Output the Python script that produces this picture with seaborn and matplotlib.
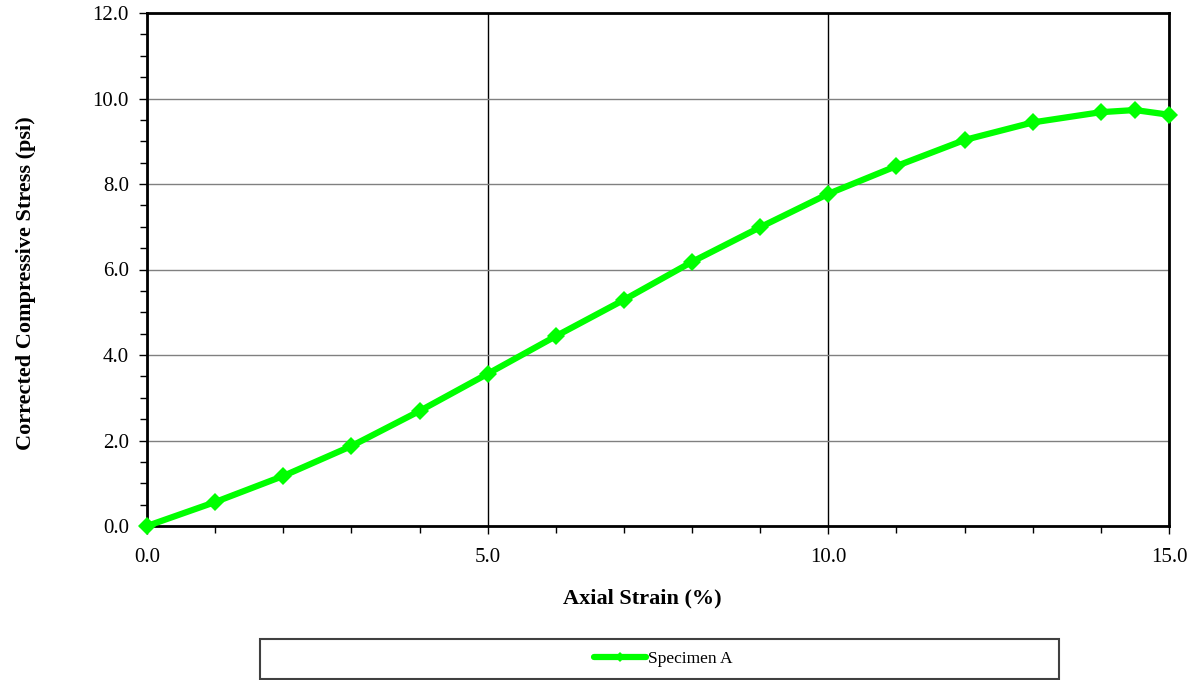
import matplotlib
matplotlib.use("Agg")
import matplotlib.pyplot as plt
import seaborn as sns
import pandas as pd
from matplotlib.ticker import MultipleLocator, FormatStrFormatter
from matplotlib.patches import Rectangle

strain = [0, 1, 2, 3, 4, 5, 6, 7, 8, 9, 10, 11, 12, 13, 14, 14.5, 15]
stress = [0.0, 0.56, 1.17, 1.87, 2.69, 3.56, 4.44, 5.29, 6.18, 6.99, 7.77,
          8.42, 9.03, 9.44, 9.68, 9.73, 9.62]
series_name = "Specimen A"

df = pd.DataFrame({"strain": strain, "stress": stress, "series": series_name})

sns.set_style("white")
plt.rcParams["font.family"] = ["Liberation Serif", "DejaVu Serif"]
plt.rcParams["text.color"] = "black"
plt.rcParams["axes.labelcolor"] = "black"

fig = plt.figure(figsize=(12.01, 6.8), dpi=100)
ax = fig.add_axes([147/1201, 1-526/680, (1169-147)/1201, (526-13)/680])

sns.lineplot(data=df, x="strain", y="stress", hue="series", palette=["#00ff00"],
             marker="D", markersize=9, markeredgewidth=0, linewidth=4.5,
             sort=False, ax=ax, legend=True, clip_on=False, zorder=5)

ax.set_xlim(0, 15)
ax.set_ylim(0, 12)
ax.xaxis.set_major_locator(MultipleLocator(5))
ax.xaxis.set_minor_locator(MultipleLocator(1))
ax.yaxis.set_major_locator(MultipleLocator(2))
ax.yaxis.set_minor_locator(MultipleLocator(0.5))
ax.xaxis.set_major_formatter(FormatStrFormatter("%.1f"))
ax.yaxis.set_major_formatter(FormatStrFormatter("%.1f"))

ax.grid(False)
ax.xaxis.grid(True, which="major", color="black", linewidth=1)
ax.yaxis.grid(True, which="major", color="#808080", linewidth=1)
ax.set_axisbelow(True)

for s in ax.spines.values():
    s.set_color("black")
    s.set_linewidth(2)
    s.set_visible(True)

ax.tick_params(axis="both", which="both", bottom=True, left=True, top=False, right=False)
ax.tick_params(axis="both", which="major", direction="out", length=6, width=1,
               color="black", labelsize=15, labelcolor="black")
ax.tick_params(axis="both", which="minor", direction="out", length=5, width=1,
               color="black")
ax.tick_params(axis="x", which="major", pad=10)
ax.tick_params(axis="y", which="major", pad=7)

ax.set_xlabel("Axial Strain (%)", fontsize=16, fontweight="bold")
ax.set_ylabel("Corrected Compressive Stress (psi)", fontsize=16, fontweight="bold")
ax.xaxis.set_label_coords(0.485, -0.122)
ax.yaxis.set_label_coords(-0.109, 0.473)

h, l = ax.get_legend_handles_labels()
ax.legend_.remove()
leg = fig.legend(h, l, loc="center", bbox_to_anchor=(264/1201, 1-679/680, (1059-260)/1201, 40/680),
                 frameon=False, fontsize=12.5,
                 handlelength=3, handletextpad=0.1, borderaxespad=0)
for line in leg.get_lines():
    line.set_markersize(5)

fig.patches.append(Rectangle((260/1201, 1-679/680), (1059-260)/1201, 40/680,
                             transform=fig.transFigure, fill=False,
                             edgecolor="#404040", linewidth=1.5))

fig.savefig("out.png", dpi=100)
